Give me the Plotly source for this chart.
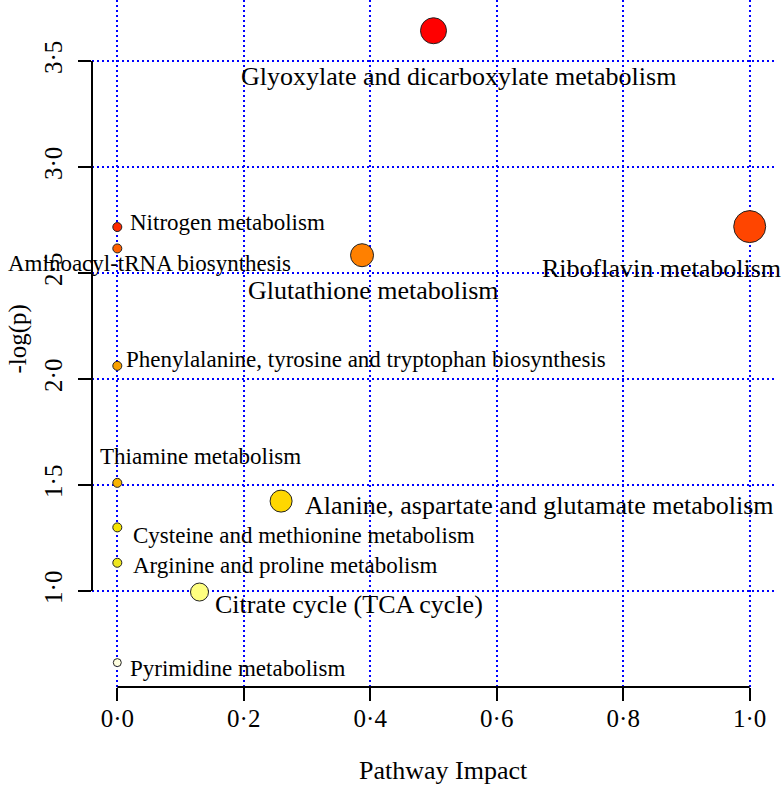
import plotly.graph_objects as go

# Pathway analysis results
pathways = [
    "Glyoxylate and dicarboxylate metabolism",
    "Riboflavin metabolism",
    "Nitrogen metabolism",
    "Aminoacyl-tRNA biosynthesis",
    "Glutathione metabolism",
    "Phenylalanine, tyrosine and tryptophan biosynthesis",
    "Thiamine metabolism",
    "Alanine, aspartate and glutamate metabolism",
    "Cysteine and methionine metabolism",
    "Arginine and proline metabolism",
    "Citrate cycle (TCA cycle)",
    "Pyrimidine metabolism",
]
impact = [0.50, 1.00, 0.0, 0.0, 0.387, 0.0, 0.0, 0.259, 0.0, 0.0, 0.13, 0.0]
neg_log_p = [3.643, 2.719, 2.717, 2.616, 2.584, 2.062, 1.510, 1.424, 1.300, 1.133, 0.995, 0.662]

x_ticks = [0.0, 0.2, 0.4, 0.6, 0.8, 1.0]
y_ticks = [1.0, 1.5, 2.0, 2.5, 3.0, 3.5]

# --- styling ---
point_colors = ["#FF0000", "#FF4500", "#FF2A00", "#FF6000", "#FF8000", "#F8A000",
                "#F8B400", "#FFD700", "#F5E400", "#EEE61E", "#FFFF80", "#FFFFE0"]
point_sizes = [26, 32, 9, 9, 23, 9, 9, 22, 9, 9, 18, 8]

# label placement: (anchor, dx px, dy px down, font size)
label_place = [
    ("center", 25, 46, 26),
    ("center", -88, 42, 26),
    ("left", 11, -5, 23),
    ("center", 32, 15, 23),
    ("center", 11, 35, 26),
    ("left", 7, -6, 23),
    ("center", 83, -26, 23),
    ("left", 22, 4, 26),
    ("left", 14, 8, 23),
    ("left", 14, 3, 23),
    ("left", 13, 12, 26),
    ("left", 11, 6, 23),
]

FONT = "Liberation Serif, Times New Roman, serif"


def dot_label(v):
    return f"{v:.1f}".replace(".", "\u00b7")


fig = go.Figure()

fig.add_trace(
    go.Scatter(
        x=impact, y=neg_log_p,
        mode="markers",
        text=pathways,
        marker=dict(color=point_colors, size=point_sizes, opacity=1,
                    line=dict(color="#222222", width=1)),
        cliponaxis=False,
        showlegend=False,
        hovertemplate="%{text}<br>impact %{x}<br>-log(p) %{y}<extra></extra>",
    )
)

# pathway name labels
for name, xv, yv, (anchor, dx, dy, size) in zip(pathways, impact, neg_log_p, label_place):
    fig.add_annotation(
        x=xv, y=yv, xref="x", yref="y",
        text=name, showarrow=False,
        xanchor=anchor, yanchor="middle",
        xshift=dx, yshift=-dy,
        font=dict(family=FONT, size=size, color="black"),
    )

# axis titles
fig.add_annotation(
    x=0.5, y=0, xref="paper", yref="paper",
    text="Pathway Impact", showarrow=False,
    xanchor="center", yanchor="middle", xshift=10, yshift=-83,
    font=dict(family=FONT, size=26, color="black"),
)
fig.add_annotation(
    x=0, y=0.5, xref="paper", yref="paper",
    text="-log(p)", showarrow=False, textangle=-90,
    xanchor="center", yanchor="middle", xshift=-75, yshift=4,
    font=dict(family=FONT, size=25, color="black"),
)

# R-style axis lines that only span the ticks
fig.add_shape(type="line", xref="x", yref="paper",
              x0=x_ticks[0], x1=x_ticks[-1], y0=0, y1=0,
              line=dict(color="black", width=2))
fig.add_shape(type="line", xref="paper", yref="y",
              x0=0, x1=0, y0=y_ticks[0], y1=y_ticks[-1],
              line=dict(color="black", width=2))

axis_common = dict(
    showline=False, zeroline=False, automargin=False,
    ticks="outside", ticklen=13, tickwidth=2, tickcolor="black",
    showgrid=True, gridcolor="#0000FF", gridwidth=1.6, griddash="2px,3px",
    tickfont=dict(family=FONT, size=25, color="black"),
)

fig.update_xaxes(
    range=[-0.04, 1.04],
    tickvals=x_ticks, ticktext=[dot_label(v) for v in x_ticks],
    ticklabelstandoff=-4,
    **axis_common,
)
fig.update_yaxes(
    range=[0.547, 3.788],
    tickvals=y_ticks, ticktext=[dot_label(v) for v in y_ticks],
    tickangle=-90, ticklabelstandoff=6,
    **axis_common,
)

fig.update_layout(
    width=784, height=788,
    margin=dict(l=92, r=9, t=0, b=101),
    plot_bgcolor="white", paper_bgcolor="white",
    showlegend=False,
)

# drop the default page margin so the figure fills the window
fig.write_html(
    "out.html",
    config={"displayModeBar": False},
    post_script="document.body.style.margin = '0';",
)
